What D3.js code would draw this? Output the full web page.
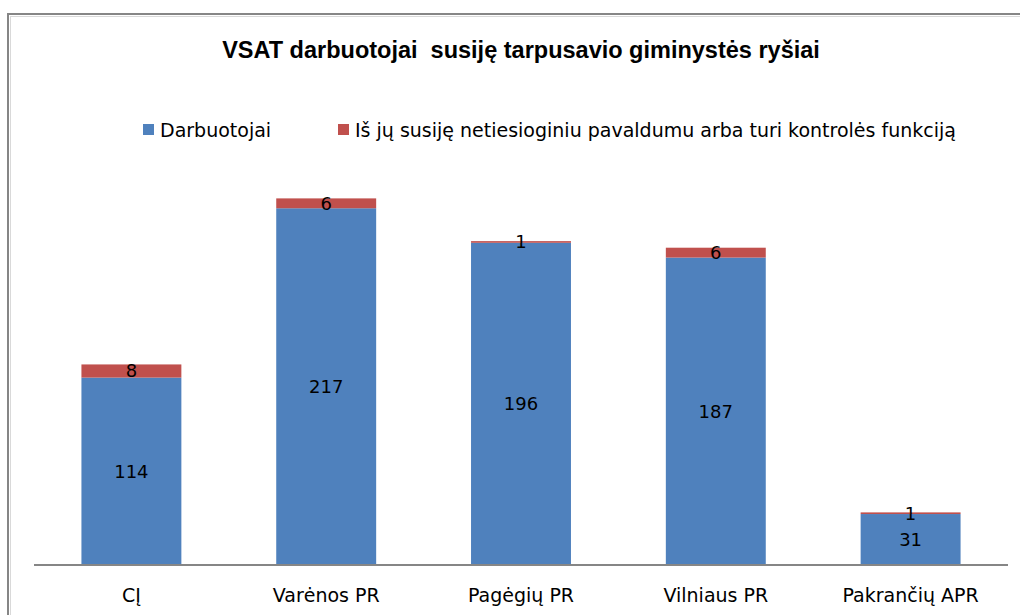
<!DOCTYPE html>
<html lang="lt">
<head>
<meta charset="utf-8">
<title>VSAT darbuotojai</title>
<script src="https://cdn.jsdelivr.net/npm/d3@7"></script>
<style>
  body { margin: 0; background: #fff; }
  text { font-family: "DejaVu Sans", sans-serif; fill: #000; }
</style>
</head>
<body>
<script>
// data
var categories = ["CĮ", "Varėnos PR", "Pagėgių PR", "Vilniaus PR", "Pakrančių APR"];
var employees = [114, 217, 196, 187, 31];
var related = [8, 6, 1, 6, 1];
var seriesNames = ["Darbuotojai", "Iš jų susiję netiesioginiu pavaldumu arba turi kontrolės funkciją"];
var colors = ["#4F81BD", "#C0504D"];

var width = 1020, height = 615;
var baseY = 565, axisLeft = 34, axisRight = 1008;

var svg = d3.select("body").append("svg")
  .attr("width", width)
  .attr("height", height);

// chart frame (cropped on right and bottom)
svg.append("rect")
  .attr("x", 8).attr("y", 14)
  .attr("width", 1030).attr("height", 620)
  .attr("fill", "none")
  .attr("stroke", "#868686")
  .attr("stroke-width", 2);
svg.append("path")
  .attr("d", "M10,16.5H1020M10.5,16V615")
  .attr("stroke", "#d9d9d9")
  .attr("stroke-width", 1)
  .attr("fill", "none");

// title
svg.append("text")
  .attr("x", 521).attr("y", 58)
  .attr("text-anchor", "middle")
  .style("font-family", "'Liberation Sans', Arial, sans-serif")
  .style("font-weight", "bold")
  .style("font-size", "23.5px")
  .style("white-space", "pre")
  .text("VSAT darbuotojai  susiję tarpusavio giminystės ryšiai");

// scales
var x = d3.scaleBand()
  .domain(categories)
  .range([axisLeft, axisRight])
  .paddingInner(0.487)
  .paddingOuter(0.2435);

var y = d3.scaleLinear()
  .domain([0, 250])
  .range([baseY, baseY - 411]);

// stacked data
var rows = categories.map(function(c, i) {
  return { cat: c, a: employees[i], b: related[i] };
});
var stack = d3.stack().keys(["a", "b"])(rows);

var layers = svg.selectAll("g.layer")
  .data(stack)
  .enter().append("g")
  .attr("class", "layer")
  .attr("fill", function(d, i) { return colors[i]; });

layers.selectAll("rect")
  .data(function(d) { return d; })
  .enter().append("rect")
  .attr("x", function(d) { return x(d.data.cat); })
  .attr("width", x.bandwidth())
  .attr("y", function(d) { return y(d[1]); })
  .attr("height", function(d) { return y(d[0]) - y(d[1]); });

// value labels
layers.each(function(layer) {
  d3.select(this).selectAll("text")
    .data(layer)
    .enter().append("text")
    .attr("x", function(d) { return x(d.data.cat) + x.bandwidth() / 2; })
    .attr("y", function(d) { return (y(d[0]) + y(d[1])) / 2; })
    .attr("dy", "0.36em")
    .attr("text-anchor", "middle")
    .style("font-size", "18px")
    .style("fill", "#000")
    .text(function(d) { return d[1] - d[0]; });
});

// x axis
var xAxis = d3.axisBottom(x).tickSize(0).tickPadding(24);
var gx = svg.append("g")
  .attr("transform", "translate(0," + baseY + ")")
  .call(xAxis);
gx.select(".domain").remove();
gx.selectAll("text")
  .style("font-size", "19px")
  .style("font-family", "'DejaVu Sans', sans-serif")
  .attr("fill", "#000");
svg.append("line")
  .attr("x1", axisLeft).attr("x2", axisRight)
  .attr("y1", baseY).attr("y2", baseY)
  .attr("stroke", "#868686")
  .attr("stroke-width", 2);

// legend
var legendX = [143, 338];
var legend = svg.selectAll("g.legend")
  .data(seriesNames)
  .enter().append("g")
  .attr("class", "legend")
  .attr("transform", function(d, i) { return "translate(" + legendX[i] + ",124)"; });
legend.append("rect")
  .attr("width", 11).attr("height", 11)
  .attr("fill", function(d, i) { return colors[i]; });
legend.append("text")
  .attr("x", 17).attr("y", 6)
  .attr("dy", "0.36em")
  .style("font-size", "19px")
  .text(function(d) { return d; });
</script>
</body>
</html>
